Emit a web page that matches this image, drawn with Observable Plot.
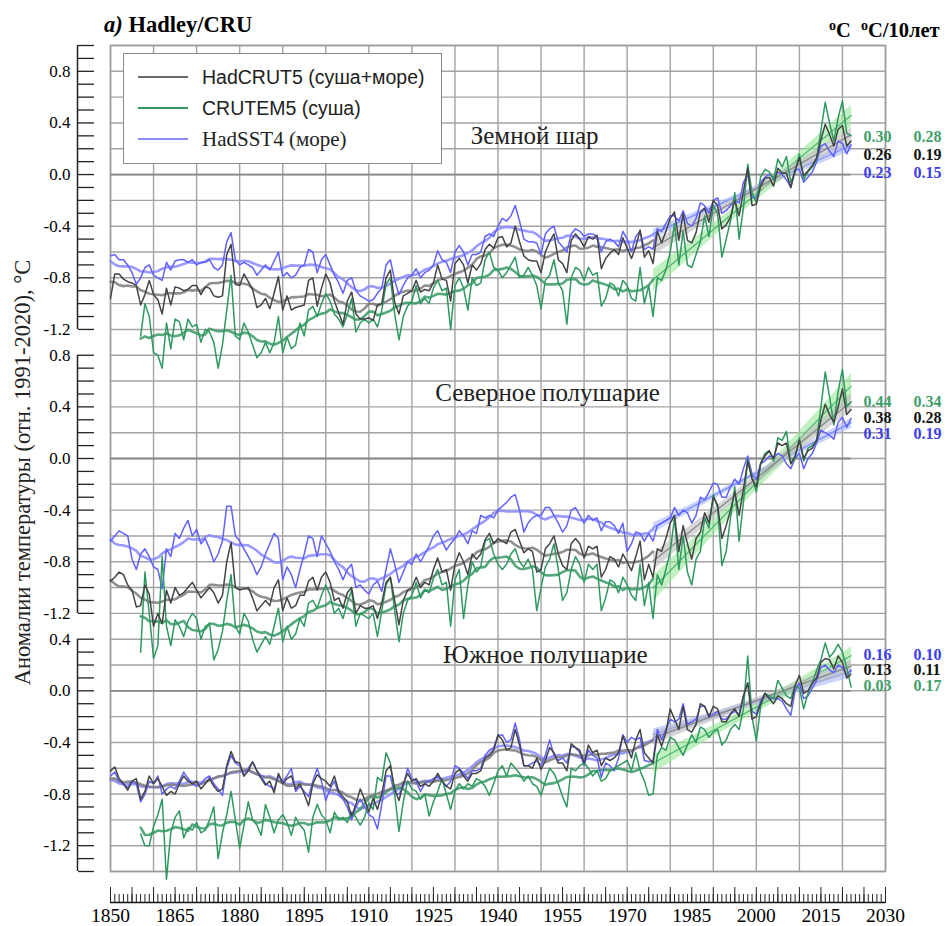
<!DOCTYPE html>
<html><head><meta charset="utf-8">
<script src="https://cdn.jsdelivr.net/npm/d3@7"></script>
<script src="https://cdn.jsdelivr.net/npm/@observablehq/plot@0.6"></script>
<style>
body{margin:0;background:#fff;}
#wrap{position:relative;width:945px;height:926px;overflow:hidden;background:#fff;}
#chart{position:absolute;left:0;top:0;}
.title{position:absolute;left:104px;top:14px;font:bold 22.5px "Liberation Serif",serif;line-height:1;white-space:nowrap;}
.units{position:absolute;top:19px;font:bold 20.5px "Liberation Serif",serif;line-height:1;white-space:nowrap;}
.units sup{font-size:14px;vertical-align:7px;}
.legend{position:absolute;left:123px;top:53px;width:319px;height:111px;border:1.5px solid #8a8a8a;background:#fff;box-sizing:border-box;}
.row{position:absolute;left:14px;height:24px;display:flex;align-items:center;white-space:nowrap;}
.sw{display:inline-block;width:50px;height:0;border-top:2.5px solid;margin-right:14px;}
.sans{font:19.5px "Liberation Sans",sans-serif;color:#222;}
.serif{font:21px "Liberation Serif",serif;color:#222;}
</style></head><body>
<div id="wrap">
<div id="chart"></div>
<div class="title"><i>a)</i> Hadley/CRU</div>
<div class="units" style="left:829px"><sup>o</sup>C</div>
<div class="units" style="left:861px"><sup>o</sup>C/10лет</div>
<div class="legend">
  <div class="row" style="top:11px"><span class="sw" style="border-color:#6a6a6a"></span><span class="sans">HadCRUT5 (суша+море)</span></div>
  <div class="row" style="top:42px"><span class="sw" style="border-color:#2e9960"></span><span class="sans">CRUTEM5 (суша)</span></div>
  <div class="row" style="top:73px"><span class="sw" style="border-color:#8a8aff"></span><span class="serif">HadSST4 (море)</span></div>
</div>
</div>
<script>
// ---------- DATA (anomalies, °C, relative to 1991-2020) ----------
// Global, 1850-2022
const G_HadCRUT5 = [
-0.96,-0.77,-0.77,-0.81,-0.83,-0.84,-0.86,-1.01,-0.93,-0.82,
-0.93,-0.97,-1.08,-0.88,-1.01,-0.87,-0.88,-0.90,-0.89,-0.86,
-0.86,-0.93,-0.87,-0.88,-0.94,-0.95,-0.94,-0.62,-0.54,-0.85,
-0.86,-0.77,-0.83,-0.89,-1.03,-1.01,-0.96,-1.04,-0.92,-0.79,
-1.05,-0.94,-1.05,-1.03,-1.02,-1.01,-0.82,-0.80,-1.02,-0.88,
-0.77,-0.84,-0.98,-1.07,-1.16,-0.98,-0.91,-1.08,-1.12,-1.12,
-1.11,-1.13,-1.01,-1.00,-0.80,-0.74,-0.99,-1.08,-0.94,-0.92,
-0.90,-0.82,-0.91,-0.89,-0.90,-0.84,-0.70,-0.81,-0.82,-0.98,
-0.69,-0.65,-0.70,-0.84,-0.70,-0.74,-0.69,-0.58,-0.54,-0.57,
-0.49,-0.48,-0.56,-0.53,-0.40,-0.52,-0.63,-0.66,-0.67,-0.67,
-0.76,-0.60,-0.52,-0.46,-0.66,-0.69,-0.76,-0.51,-0.46,-0.50,
-0.56,-0.48,-0.50,-0.47,-0.73,-0.65,-0.61,-0.58,-0.62,-0.49,
-0.57,-0.65,-0.56,-0.43,-0.64,-0.59,-0.69,-0.44,-0.53,-0.44,
-0.34,-0.29,-0.51,-0.30,-0.51,-0.53,-0.45,-0.29,-0.26,-0.37,
-0.20,-0.24,-0.42,-0.39,-0.33,-0.20,-0.32,-0.13,0.05,-0.24,
-0.23,-0.09,-0.03,-0.02,-0.09,0.05,0.01,0.01,-0.10,0.03,
0.13,-0.01,0.03,0.07,0.13,0.27,0.39,0.31,0.22,0.35,
0.38,0.22,0.26];
const G_HadSST4 = [
-0.63,-0.62,-0.66,-0.66,-0.70,-0.76,-0.85,-0.80,-0.72,-0.70,
-0.78,-0.80,-0.82,-0.68,-0.74,-0.67,-0.66,-0.66,-0.68,-0.66,
-0.70,-0.68,-0.68,-0.66,-0.72,-0.74,-0.70,-0.52,-0.45,-0.66,
-0.70,-0.68,-0.70,-0.72,-0.78,-0.74,-0.70,-0.74,-0.67,-0.60,
-0.79,-0.76,-0.80,-0.78,-0.72,-0.70,-0.58,-0.60,-0.76,-0.66,
-0.62,-0.70,-0.78,-0.84,-0.92,-0.82,-0.80,-0.90,-0.94,-0.96,
-0.98,-0.97,-0.92,-0.88,-0.70,-0.66,-0.82,-0.93,-0.86,-0.80,
-0.78,-0.73,-0.80,-0.76,-0.74,-0.70,-0.59,-0.66,-0.68,-0.76,
-0.60,-0.55,-0.60,-0.70,-0.62,-0.62,-0.60,-0.48,-0.46,-0.48,
-0.40,-0.34,-0.36,-0.32,-0.24,-0.36,-0.50,-0.52,-0.52,-0.53,
-0.62,-0.46,-0.42,-0.40,-0.52,-0.56,-0.60,-0.46,-0.42,-0.44,
-0.48,-0.46,-0.46,-0.48,-0.60,-0.52,-0.50,-0.52,-0.56,-0.44,
-0.50,-0.60,-0.48,-0.44,-0.58,-0.56,-0.58,-0.42,-0.44,-0.38,
-0.32,-0.32,-0.36,-0.28,-0.38,-0.40,-0.34,-0.22,-0.24,-0.30,
-0.20,-0.18,-0.30,-0.28,-0.24,-0.20,-0.22,-0.06,0.00,-0.18,
-0.18,-0.06,-0.02,0.00,-0.02,0.02,0.00,-0.04,-0.10,0.04,
0.04,-0.06,-0.02,0.02,0.10,0.22,0.24,0.18,0.14,0.26,
0.24,0.16,0.23];
// Global, 1857-2022
const G_CRUTEM5 = [
-1.25,-1.00,-1.10,
-1.38,-1.40,-1.50,-1.15,-1.35,-1.12,-1.14,-1.28,-1.12,-1.18,
-1.16,-1.30,-1.20,-1.22,-1.30,-1.50,-1.32,-1.05,-0.78,-1.25,
-1.28,-1.15,-1.22,-1.32,-1.42,-1.38,-1.30,-1.38,-1.30,-1.10,
-1.38,-1.26,-1.35,-1.32,-1.15,-1.25,-1.05,-1.02,-1.10,-1.00,
-0.92,-0.98,-1.08,-1.12,-1.18,-1.08,-0.96,-1.22,-1.15,-1.12,
-1.15,-1.12,-1.18,-1.05,-0.85,-0.80,-1.08,-1.28,-1.10,-1.02,
-0.98,-0.86,-1.00,-0.96,-1.00,-0.88,-0.82,-0.90,-0.88,-1.20,
-0.86,-0.80,-0.88,-1.05,-0.80,-0.86,-0.84,-0.66,-0.60,-0.72,
-0.74,-0.80,-0.76,-0.70,-0.64,-0.80,-0.78,-0.72,-0.78,-0.86,
-1.04,-0.82,-0.78,-0.66,-0.84,-0.90,-1.16,-0.80,-0.72,-0.74,
-0.82,-0.72,-0.78,-0.76,-1.02,-0.96,-0.84,-0.86,-0.94,-0.82,
-0.86,-0.96,-0.98,-0.72,-1.00,-0.86,-1.10,-0.80,-0.82,-0.74,
-0.60,-0.38,-0.70,-0.44,-0.70,-0.72,-0.62,-0.52,-0.32,-0.48,
-0.24,-0.30,-0.64,-0.50,-0.36,-0.14,-0.50,-0.26,0.08,-0.14,
-0.22,-0.02,0.04,0.02,-0.04,0.12,0.06,0.14,-0.06,0.02,
0.16,-0.04,0.02,0.06,0.12,0.34,0.56,0.40,0.26,0.44,
0.57,0.32,0.30];
// Northern Hemisphere, 1850-2022
const N_HadCRUT5 = [
-0.95,-0.92,-0.88,-0.90,-0.98,-1.02,-1.15,-1.14,-0.98,-1.05,
-1.30,-1.20,-1.28,-1.02,-1.12,-1.00,-1.06,-1.04,-1.00,-0.96,
-1.02,-1.08,-1.04,-1.00,-1.04,-1.12,-1.06,-0.80,-0.65,-1.00,
-1.02,-1.01,-1.00,-1.08,-1.18,-1.14,-1.10,-1.14,-1.00,-0.94,
-1.18,-1.08,-1.16,-1.14,-1.06,-1.06,-0.95,-0.92,-1.02,-0.92,
-0.88,-0.96,-1.10,-1.08,-1.16,-1.04,-1.00,-1.20,-1.14,-1.16,
-1.16,-1.14,-1.24,-1.12,-0.96,-0.92,-1.10,-1.29,-1.10,-1.02,
-1.00,-0.92,-1.00,-0.96,-0.98,-0.86,-0.77,-0.88,-0.86,-1.02,
-0.82,-0.73,-0.80,-0.90,-0.74,-0.78,-0.74,-0.63,-0.58,-0.66,
-0.62,-0.64,-0.66,-0.57,-0.55,-0.64,-0.73,-0.70,-0.72,-0.88,
-0.86,-0.70,-0.66,-0.60,-0.74,-0.83,-0.86,-0.66,-0.62,-0.66,
-0.77,-0.68,-0.70,-0.68,-0.92,-0.86,-0.76,-0.78,-0.84,-0.74,
-0.80,-0.87,-0.76,-0.64,-0.94,-0.82,-0.92,-0.70,-0.72,-0.62,
-0.50,-0.44,-0.72,-0.52,-0.66,-0.78,-0.62,-0.57,-0.42,-0.50,
-0.30,-0.36,-0.62,-0.52,-0.40,-0.26,-0.44,-0.24,-0.02,-0.16,
-0.22,-0.04,0.02,0.06,0.00,0.12,0.10,0.12,-0.04,0.02,
0.14,0.00,0.06,0.08,0.14,0.30,0.42,0.34,0.28,0.40,
0.54,0.34,0.38];
const N_HadSST4 = [
-0.64,-0.60,-0.56,-0.58,-0.60,-0.78,-0.86,-0.74,-0.70,-0.76,
-0.84,-0.86,-1.01,-0.70,-0.76,-0.58,-0.62,-0.54,-0.48,-0.60,
-0.55,-0.66,-0.62,-0.70,-0.80,-0.74,-0.64,-0.37,-0.37,-0.60,
-0.64,-0.70,-0.76,-0.82,-0.90,-0.84,-0.74,-0.66,-0.58,-0.62,
-0.94,-0.84,-0.90,-1.00,-0.86,-0.74,-0.60,-0.62,-0.76,-0.60,
-0.66,-0.72,-0.80,-0.86,-0.94,-0.86,-0.82,-1.00,-0.98,-1.02,
-1.05,-0.98,-0.95,-1.03,-0.86,-0.70,-0.82,-0.96,-0.88,-0.80,
-0.82,-0.74,-0.80,-0.74,-0.68,-0.60,-0.56,-0.64,-0.71,-0.66,
-0.62,-0.56,-0.60,-0.66,-0.56,-0.58,-0.44,-0.46,-0.44,-0.46,
-0.40,-0.37,-0.34,-0.30,-0.28,-0.40,-0.57,-0.50,-0.46,-0.44,
-0.44,-0.38,-0.38,-0.44,-0.50,-0.57,-0.52,-0.40,-0.38,-0.44,
-0.50,-0.44,-0.48,-0.46,-0.56,-0.49,-0.49,-0.52,-0.58,-0.50,
-0.72,-0.66,-0.57,-0.58,-0.64,-0.58,-0.64,-0.52,-0.50,-0.48,
-0.46,-0.38,-0.44,-0.40,-0.42,-0.50,-0.44,-0.30,-0.32,-0.26,
-0.19,-0.20,-0.30,-0.30,-0.22,-0.16,-0.20,-0.08,0.02,-0.12,
-0.16,-0.04,-0.02,0.02,0.00,0.04,0.02,-0.04,-0.08,0.00,
0.04,-0.08,0.00,0.04,0.12,0.22,0.20,0.18,0.15,0.28,
0.32,0.24,0.31];
// Northern Hemisphere, 1857-2022
const N_CRUTEM5 = [
-1.50,-0.88,-1.20,
-1.55,-1.45,-0.76,-1.30,-1.45,-1.25,-1.30,-1.38,-1.26,-1.20,
-1.24,-1.40,-1.30,-1.28,-1.56,-1.48,-1.34,-1.10,-0.90,-1.30,
-1.36,-1.20,-1.26,-1.40,-1.50,-1.44,-1.38,-1.44,-1.30,-1.16,
-1.42,-1.30,-1.40,-1.36,-1.24,-1.30,-1.12,-1.10,-1.16,-1.06,
-0.98,-1.06,-1.20,-1.16,-1.24,-1.12,-1.02,-1.30,-1.20,-1.22,
-1.24,-1.20,-1.38,-1.18,-0.98,-0.92,-1.18,-1.42,-1.20,-1.10,
-1.06,-0.96,-1.08,-1.02,-1.04,-0.93,-0.86,-0.98,-0.96,-1.30,
-0.94,-0.86,-1.24,-0.98,-0.80,-0.88,-0.84,-0.64,-0.62,-0.74,
-0.82,-0.86,-0.82,-0.74,-0.70,-0.80,-0.84,-0.78,-0.86,-1.18,
-1.00,-0.84,-0.78,-0.66,-0.86,-1.10,-1.04,-0.86,-0.76,-0.82,
-0.96,-0.82,-0.86,-0.82,-1.18,-1.08,-0.94,-0.96,-1.04,-0.92,
-0.98,-1.06,-1.10,-0.82,-1.14,-0.96,-1.24,-0.90,-0.98,-0.86,
-0.72,-0.46,-0.86,-0.60,-0.88,-0.98,-0.78,-0.72,-0.46,-0.54,
-0.28,-0.38,-0.83,-0.72,-0.46,-0.22,-0.64,-0.34,-0.01,-0.14,
-0.26,-0.04,0.04,0.06,-0.02,0.16,0.14,0.21,-0.04,0.00,
0.16,-0.02,0.08,0.10,0.14,0.40,0.67,0.48,0.26,0.52,
0.69,0.40,0.44];
// Southern Hemisphere, 1850-2022
const S_HadCRUT5 = [
-0.62,-0.59,-0.68,-0.72,-0.77,-0.70,-0.68,-0.84,-0.78,-0.66,
-0.72,-0.68,-0.74,-0.81,-0.78,-0.80,-0.72,-0.66,-0.70,-0.72,
-0.70,-0.76,-0.72,-0.68,-0.74,-0.78,-0.76,-0.58,-0.47,-0.55,
-0.56,-0.66,-0.62,-0.55,-0.62,-0.68,-0.73,-0.70,-0.79,-0.64,
-0.72,-0.68,-0.66,-0.76,-0.72,-0.80,-0.89,-0.72,-0.65,-0.68,
-0.70,-0.74,-0.66,-0.78,-0.82,-0.86,-0.97,-0.88,-0.76,-0.84,
-0.94,-0.83,-0.92,-0.80,-0.62,-0.58,-0.76,-0.85,-0.72,-0.64,
-0.70,-0.68,-0.74,-0.72,-0.74,-0.70,-0.64,-0.70,-0.74,-0.76,
-0.64,-0.61,-0.66,-0.70,-0.64,-0.64,-0.62,-0.52,-0.50,-0.46,
-0.34,-0.38,-0.46,-0.44,-0.30,-0.42,-0.58,-0.58,-0.60,-0.52,
-0.61,-0.54,-0.44,-0.48,-0.56,-0.56,-0.62,-0.41,-0.44,-0.46,
-0.56,-0.42,-0.48,-0.46,-0.58,-0.52,-0.54,-0.52,-0.48,-0.35,
-0.44,-0.52,-0.38,-0.30,-0.48,-0.52,-0.56,-0.34,-0.43,-0.32,
-0.14,-0.22,-0.30,-0.12,-0.30,-0.32,-0.26,-0.10,-0.12,-0.20,
-0.12,-0.14,-0.24,-0.24,-0.18,-0.14,-0.20,-0.04,0.06,-0.22,
-0.20,-0.10,-0.02,-0.06,-0.10,-0.04,-0.06,-0.10,-0.12,0.04,
0.12,-0.02,0.00,0.06,0.10,0.22,0.25,0.24,0.17,0.27,
0.22,0.10,0.13];
const S_HadSST4 = [
-0.66,-0.63,-0.70,-0.72,-0.75,-0.70,-0.72,-0.86,-0.80,-0.70,
-0.72,-0.66,-0.80,-0.76,-0.74,-0.76,-0.70,-0.63,-0.68,-0.72,
-0.74,-0.72,-0.68,-0.66,-0.72,-0.76,-0.81,-0.60,-0.50,-0.56,
-0.58,-0.66,-0.60,-0.55,-0.62,-0.66,-0.72,-0.74,-0.76,-0.66,
-0.70,-0.66,-0.60,-0.78,-0.74,-0.78,-0.82,-0.70,-0.60,-0.70,
-0.85,-0.76,-0.70,-0.80,-0.84,-0.90,-1.00,-0.90,-0.84,-0.90,
-0.96,-0.98,-1.07,-0.88,-0.66,-0.66,-0.80,-0.80,-0.74,-0.60,
-0.68,-0.70,-0.78,-0.72,-0.70,-0.68,-0.66,-0.70,-0.74,-0.70,
-0.58,-0.60,-0.64,-0.68,-0.62,-0.62,-0.60,-0.50,-0.46,-0.44,
-0.35,-0.34,-0.40,-0.38,-0.25,-0.38,-0.58,-0.58,-0.56,-0.54,
-0.58,-0.50,-0.38,-0.50,-0.54,-0.52,-0.56,-0.43,-0.44,-0.48,
-0.58,-0.46,-0.50,-0.52,-0.67,-0.56,-0.58,-0.62,-0.52,-0.34,
-0.40,-0.36,-0.38,-0.36,-0.54,-0.55,-0.54,-0.30,-0.38,-0.30,
-0.22,-0.24,-0.22,-0.10,-0.26,-0.24,-0.22,-0.12,-0.12,-0.20,
-0.18,-0.16,-0.22,-0.22,-0.18,-0.16,-0.18,-0.04,0.06,-0.16,
-0.18,-0.08,-0.02,-0.06,-0.06,-0.06,-0.08,-0.14,-0.19,0.00,
0.06,-0.06,-0.04,0.02,0.08,0.18,0.20,0.16,0.14,0.20,
0.18,0.12,0.16];
// Southern Hemisphere, 1857-2022
const S_CRUTEM5 = [
-1.11,-1.20,-1.20,
-1.05,-0.96,-0.84,-1.46,-1.10,-0.98,-0.93,-1.14,-1.06,-1.08,
-1.02,-1.10,-1.08,-1.00,-0.90,-1.30,-1.10,-0.96,-0.78,-1.00,
-1.22,-1.04,-0.86,-1.00,-1.04,-1.12,-0.88,-0.98,-1.10,-1.00,
-0.96,-1.02,-1.12,-0.98,-1.04,-1.08,-1.25,-0.98,-0.88,-0.96,
-1.00,-1.10,-0.94,-1.00,-0.98,-1.02,-0.94,-0.98,-1.04,-0.98,
-0.87,-0.92,-0.67,-0.70,-0.48,-0.56,-0.80,-1.09,-0.86,-0.70,
-0.76,-0.78,-0.84,-0.80,-0.97,-0.86,-0.78,-0.68,-0.80,-0.92,
-0.78,-0.72,-0.76,-0.72,-0.74,-0.68,-0.70,-0.74,-0.81,-0.72,
-0.62,-0.58,-0.66,-0.56,-0.60,-0.64,-0.70,-0.66,-0.72,-0.74,
-0.81,-0.70,-0.60,-0.64,-0.72,-0.82,-0.90,-0.60,-0.62,-0.58,
-0.56,-0.60,-0.66,-0.62,-0.70,-0.68,-0.62,-0.60,-0.58,-0.56,
-0.54,-0.62,-0.48,-0.62,-0.70,-0.81,-0.80,-0.50,-0.44,-0.46,
-0.36,-0.38,-0.44,-0.50,-0.42,-0.34,-0.40,-0.28,-0.30,-0.36,
-0.32,-0.30,-0.42,-0.38,-0.30,-0.26,-0.30,-0.14,0.27,-0.20,
-0.39,-0.12,-0.02,-0.04,-0.06,0.08,0.02,-0.04,-0.06,0.04,
0.02,-0.14,-0.02,0.06,0.16,0.24,0.37,0.26,0.30,0.36,
0.30,0.18,0.03];

// Values shown at right: last-year anomaly (°C) and 1976-2022 trend (°C/10 years)
const annotRegions = ["G","G","G","N","N","N","S","S","S"];
const annotSeries  = ["CRUTEM5","HadCRUT5","HadSST4","CRUTEM5","HadCRUT5","HadSST4","HadSST4","HadCRUT5","CRUTEM5"];
const annotLast    = ["0.30","0.26","0.23","0.44","0.38","0.31","0.16","0.13","0.03"];
const annotTrend   = ["0.28","0.19","0.15","0.34","0.28","0.19","0.10","0.11","0.17"];
const annotRowY    = [0.295,0.15,0.01, 0.44,0.315,0.19, 0.28,0.16,0.04];

const panelNames = ["Земной шар","Северное полушарие","Южное полушарие"];
const xLabelYears = d3.range(1850, 2031, 15);
const yTitle = "Аномалии температуры (отн. 1991-2020), °C";

// ---------- LAYOUT / STYLE ----------
const offsets = {G: 4.0, N: 1.8, S: 0};
const rawColor    = {HadCRUT5: "#444444", CRUTEM5: "#2e9960", HadSST4: "#6161ff"};
const smoothColor = {HadCRUT5: "#7d7d7d", CRUTEM5: "#3a9a66", HadSST4: "#8a8aff"};
const trendColor  = {HadCRUT5: "#8a8a8a", CRUTEM5: "#4fb86f", HadSST4: "#7f8fff"};
const bandColor   = {HadCRUT5: "#bdbdbd", CRUTEM5: "#98e698", HadSST4: "#a9b8ff"};
const textColor   = {HadCRUT5: "#111111", CRUTEM5: "#3f9e6a", HadSST4: "#3c3cf0"};

const seriesDefs = [
  ["G","HadCRUT5",1850,G_HadCRUT5],["G","CRUTEM5",1857,G_CRUTEM5],["G","HadSST4",1850,G_HadSST4],
  ["N","HadCRUT5",1850,N_HadCRUT5],["N","CRUTEM5",1857,N_CRUTEM5],["N","HadSST4",1850,N_HadSST4],
  ["S","HadCRUT5",1850,S_HadCRUT5],["S","CRUTEM5",1857,S_CRUTEM5],["S","HadSST4",1850,S_HadSST4]
];
for (const [r,n,s,v] of seriesDefs) {
  if (s + v.length - 1 !== 2022) throw new Error(r + " " + n + " length " + v.length);
}
const rows = [], smooth = [];
for (const [region, name, start, values] of seriesDefs) {
  const rs = values.map((v, i) => ({region, name, key: region + name, year: start + i, v, yc: v + offsets[region]}));
  rows.push(...rs);
  rs.forEach((d, i) => {
    const lo = Math.max(0, i - 5), hi = Math.min(rs.length - 1, i + 5);
    const m = d3.mean(rs.slice(lo, hi + 1), e => e.yc);
    if (d.year <= 1976) smooth.push({...d, ys: m});
  });
}
const recent = rows.filter(d => d.year >= 1976);
const byName = (arr, n) => arr.filter(d => d.name === n);
const order = ["HadSST4","CRUTEM5","HadCRUT5"];

const segs = [{r:"G", lo:-1.2, hi:1.0, labs:[0.8,0.4,0,-0.4,-0.8,-1.2]},
              {r:"N", lo:-1.2, hi:0.8, labs:[0.8,0.4,0,-0.4,-0.8,-1.2]},
              {r:"S", lo:-1.4, hi:0.4, labs:[0.4,0,-0.4,-0.8,-1.2]}];
const tickVals = [], labelVals = [], labelMap = new Map();
for (const s of segs) {
  for (let t = Math.round(s.lo*10); t <= Math.round(s.hi*10); t++) tickVals.push(t/10 + offsets[s.r]);
  for (const l of s.labs) { const c = +(l + offsets[s.r]).toFixed(2); labelVals.push(c); labelMap.set(c, l === 0 ? "0.0" : l.toFixed(1)); }
}
const axisLines = segs.map(s => ({y1: s.lo + offsets[s.r], y2: s.hi + offsets[s.r]}));
const zeroLines = Object.values(offsets);
const panelTitles = [
  {label: panelNames[0], x: 1948.5, y: 0.30 + offsets.G},
  {label: panelNames[1], x: 1951.5, y: 0.51 + offsets.N},
  {label: panelNames[2], x: 1951.0, y: 0.28 + offsets.S}
];
const annots = annotRegions.map((r, i) => ({r, s: annotSeries[i], last: annotLast[i], trend: annotTrend[i], y: annotRowY[i] + offsets[r]}));

const marks = [
  Plot.gridX(d3.range(1850, 2031, 10), {stroke: "#a3a3a3", strokeOpacity: 1, strokeWidth: 1.4}),
  Plot.gridY(d3.range(-14, 51, 2).map(d => d/10), {stroke: "#a3a3a3", strokeOpacity: 1, strokeWidth: 1.4}),
  Plot.frame({stroke: "#9a9a9a", strokeWidth: 1.5}),
  Plot.ruleY(zeroLines, {x1: 1850, x2: 2022, stroke: "#8a8a8a", strokeWidth: 1.8})
];
for (const n of order) {
  marks.push(Plot.linearRegressionY(byName(recent, n), {x: "year", y: "yc", z: "region", ci: 0.95,
    stroke: trendColor[n], strokeWidth: 1.3, fill: bandColor[n], fillOpacity: 0.6}));
}
for (const n of order) {
  marks.push(Plot.line(byName(smooth, n), {x: "year", y: "ys", z: "region", stroke: smoothColor[n], strokeWidth: 2.6, strokeOpacity: 0.85}));
}
for (const n of order) {
  marks.push(Plot.line(byName(rows, n), {x: "year", y: "yc", z: "region", stroke: rawColor[n], strokeWidth: 1.5}));
}
marks.push(
  Plot.ruleX(axisLines, {x: () => 1850, y1: "y1", y2: "y2", dx: -33, stroke: "#222", strokeWidth: 1.5}),
  Plot.axisY(tickVals, {anchor: "right", tickSize: 16, tickFormat: () => "", dx: -808, stroke: "#222", strokeWidth: 1.3, label: null}),
  Plot.axisY(labelVals, {anchor: "left", tickSize: 0, tickPadding: 0, dx: -40, label: null,
    tickFormat: d => labelMap.get(+d.toFixed(2)), fontSize: 17, fontFamily: '"Liberation Serif", serif'}),
  Plot.ruleY([-1.4], {x1: 1850, x2: 2030, dy: 31, stroke: "#111", strokeWidth: 1.6}),
  Plot.axisX(d3.range(1850, 2031, 1), {anchor: "top", tickSize: 9, tickFormat: () => "", dy: 857, stroke: "#222", label: null}),
  Plot.axisX(d3.range(1850, 2031, 5), {anchor: "top", tickSize: 16, tickFormat: () => "", dy: 857, stroke: "#222", label: null}),
  Plot.axisX(xLabelYears, {anchor: "bottom", tickSize: 0, tickPadding: 0, dy: 37, label: null,
    tickFormat: d => String(d), fontSize: 19.5, fontFamily: '"Liberation Serif", serif'}),
  Plot.text([yTitle], {text: d => d, frameAnchor: "left", textAnchor: "middle", dx: -88, dy: 14, rotate: -90, fontSize: 22.5, fill: "#222"}),
  Plot.text(panelTitles, {x: "x", y: "y", text: "label", fontSize: 25, fill: "#222"}),
  Plot.text(annots, {x: () => 2024.9, y: "y", text: "last", fill: d => textColor[d.s], textAnchor: "start", fontWeight: "bold", fontSize: 16}),
  Plot.text(annots, {x: () => 2036.5, y: "y", text: "trend", fill: d => textColor[d.s], textAnchor: "start", fontWeight: "bold", fontSize: 16})
);

const chart = Plot.plot({
  width: 945, height: 926,
  marginTop: 45, marginBottom: 55, marginLeft: 110, marginRight: 60,
  x: {domain: [1850, 2030]},
  y: {domain: [-1.4, 5.0]},
  color: {type: "identity"},
  style: {fontFamily: '"Liberation Serif", serif', fontSize: "17px", color: "#000", background: "transparent", overflow: "visible"},
  marks
});
document.getElementById("chart").appendChild(chart);
</script>
</body></html>
